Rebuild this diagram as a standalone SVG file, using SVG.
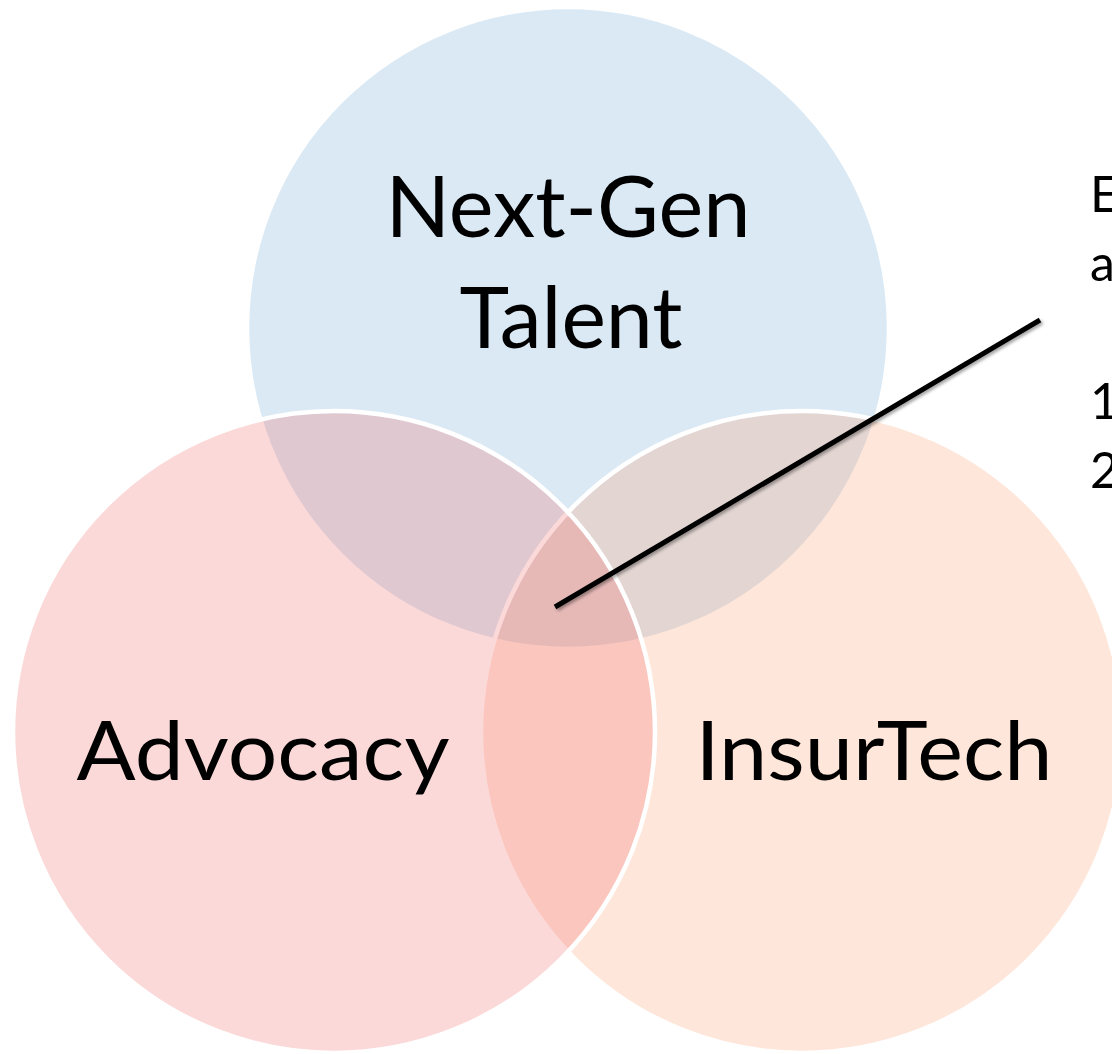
<svg xmlns="http://www.w3.org/2000/svg" width="1112" height="1054" viewBox="0 0 1112 1054">
  <defs>
    <style>
      .ring { stroke: #ffffff; stroke-width: 4.5; fill-opacity: 0.25; }
      .label { font-family: Lato, "Liberation Sans", sans-serif; fill: #000000; }
      .big { font-size: 86px; }
      .mid { font-size: 81px; }
      .note { font-size: 50px; }
    </style>
    <filter id="lineShadow" x="-10%" y="-10%" width="120%" height="130%">
      <feDropShadow dx="2" dy="2" stdDeviation="1.5" flood-color="#000000" flood-opacity="0.35"/>
    </filter>
  </defs>
  <rect width="1112" height="1054" fill="#ffffff"/>

  <!-- top set -->
  <g id="node-nextgen-talent">
    <circle class="ring" cx="568" cy="328" r="321" fill="#6BA7D3"/>
    <text class="label big" x="568" y="237" text-anchor="middle" textLength="365" lengthAdjust="spacingAndGlyphs">Next-Gen</text>
    <text class="label big" x="571" y="348" text-anchor="middle" textLength="223" lengthAdjust="spacingAndGlyphs">Talent</text>
  </g>

  <!-- lower right set -->
  <g id="node-insurtech">
    <circle class="ring" cx="802" cy="732" r="321" fill="#FB9B6B"/>
    <text class="label mid" x="874" y="780" text-anchor="middle" textLength="357" lengthAdjust="spacingAndGlyphs">InsurTech</text>
  </g>

  <!-- lower left set -->
  <g id="node-advocacy">
    <circle class="ring" cx="334" cy="732" r="321" fill="#F36767"/>
    <text class="label mid" x="263" y="780" text-anchor="middle" textLength="373" lengthAdjust="spacingAndGlyphs">Advocacy</text>
  </g>

  <!-- callout pointing into the shared centre -->
  <g id="connectors">
    <line x1="555" y1="607" x2="1040" y2="320" stroke="#000000" stroke-width="5" filter="url(#lineShadow)"/>
  </g>

  <g id="callout-text">
    <text class="label note" x="1090" y="212">E</text>
    <text class="label note" x="1090" y="281">a</text>
    <text class="label note" x="1090" y="419">1</text>
    <text class="label note" x="1090" y="488">2</text>
  </g>
</svg>
